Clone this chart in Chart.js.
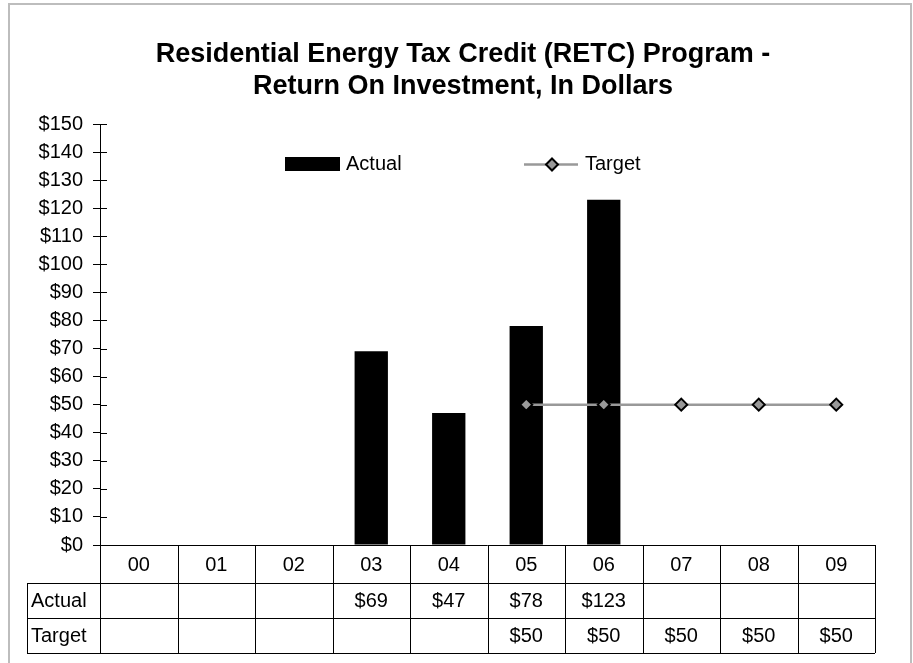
<!DOCTYPE html>
<html>
<head>
<meta charset="utf-8">
<script src="https://cdn.jsdelivr.net/npm/chart.js@4.4.1/dist/chart.umd.min.js"></script>
<style>
  html, body { margin: 0; padding: 0; background: #fff; }
  #wrap { width: 913px; height: 663px; }
</style>
</head>
<body>
<div id="wrap"><canvas id="retcChart" width="913" height="663"></canvas></div>
<script>
// chart data
const years = ['00', '01', '02', '03', '04', '05', '06', '07', '08', '09'];
const actualValues = [null, null, null, 69, 47, 78, 123, null, null, null];
const targetValues = [null, null, null, null, null, 50, 50, 50, 50, 50];
const yTicks = { min: 0, max: 150, step: 10 };
const titleLines = ['Residential Energy Tax Credit (RETC) Program -', 'Return On Investment, In Dollars'];

const FONT = "'Liberation Sans', Arial, sans-serif";
const money = v => '$' + v;

// white background + grey outer frame
const framePlugin = {
    id: 'frame',
    beforeDraw(chart) {
        const ctx = chart.ctx;
        ctx.save();
        ctx.fillStyle = '#fff';
        ctx.fillRect(0, 0, chart.width, chart.height);
        ctx.strokeStyle = '#bdbdbd';
        ctx.lineWidth = 2;
        ctx.strokeRect(9, 4, chart.width - 11, chart.height + 10);
        ctx.restore();
    }
};

// title centred on the frame, not on the plot
const titleBlock = {
    id: 'titleBlock',
    afterDraw(chart) {
        const ctx = chart.ctx;
        ctx.save();
        ctx.font = 'bold 27px ' + FONT;
        ctx.fillStyle = '#000';
        ctx.textAlign = 'center';
        ctx.textBaseline = 'middle';
        titleLines.forEach((t, i) => ctx.fillText(t, 463, 55 + i * 32));
        ctx.restore();
    }
};

// tick marks crossing into the plot area
const innerTicks = {
    id: 'innerTicks',
    afterDatasetsDraw(chart) {
        const y = chart.scales.y, ctx = chart.ctx;
        ctx.save();
        ctx.strokeStyle = '#000';
        ctx.lineWidth = 1;
        y.ticks.forEach(t => {
            const py = Math.round(y.getPixelForValue(t.value)) + 0.5;
            ctx.beginPath();
            ctx.moveTo(chart.chartArea.left, py);
            ctx.lineTo(chart.chartArea.left + 7, py);
            ctx.stroke();
        });
        ctx.restore();
    }
};

// legend drawn inside the plot
const innerLegend = {
    id: 'innerLegend',
    afterDraw(chart) {
        const ctx = chart.ctx;
        const bar = chart.data.datasets[1], line = chart.data.datasets[0];
        ctx.save();
        ctx.font = '20px ' + FONT;
        ctx.textBaseline = 'middle';
        ctx.fillStyle = bar.backgroundColor;
        ctx.fillRect(285, 157, 55, 14);
        ctx.fillStyle = '#000';
        ctx.fillText(bar.label, 346, 164);

        ctx.strokeStyle = line.borderColor;
        ctx.lineWidth = line.borderWidth;
        ctx.beginPath();
        ctx.moveTo(524, 164.5);
        ctx.lineTo(578, 164.5);
        ctx.stroke();
        const r = line.pointRadius;
        ctx.beginPath();
        ctx.moveTo(552, 164.5 - r);
        ctx.lineTo(552 + r, 164.5);
        ctx.lineTo(552, 164.5 + r);
        ctx.lineTo(552 - r, 164.5);
        ctx.closePath();
        ctx.fillStyle = line.pointBackgroundColor;
        ctx.fill();
        ctx.strokeStyle = line.pointBorderColor;
        ctx.lineWidth = line.pointBorderWidth;
        ctx.stroke();
        ctx.fillStyle = '#000';
        ctx.fillText(line.label, 585, 164);
        ctx.restore();
    }
};

// data table under the axis
const dataTable = {
    id: 'dataTable',
    afterDraw(chart) {
        const ctx = chart.ctx, x = chart.scales.x, area = chart.chartArea;
        const colW = (area.right - area.left) / years.length;
        const rows = [area.bottom, area.bottom + 38, area.bottom + 73, area.bottom + 108];
        const labelLeft = 27;
        ctx.save();
        ctx.strokeStyle = '#000';
        ctx.lineWidth = 1;
        const hline = (x1, x2, y) => { ctx.beginPath(); ctx.moveTo(x1, Math.round(y) + 0.5); ctx.lineTo(x2, Math.round(y) + 0.5); ctx.stroke(); };
        const vline = (xx, y1, y2) => { ctx.beginPath(); ctx.moveTo(Math.round(xx) + 0.5, y1); ctx.lineTo(Math.round(xx) + 0.5, y2); ctx.stroke(); };
        hline(area.left, area.right, rows[0]);
        hline(labelLeft, area.right, rows[1]);
        hline(labelLeft, area.right, rows[2]);
        hline(labelLeft, area.right, rows[3]);
        vline(labelLeft, rows[1], rows[3]);
        for (let i = 0; i <= years.length; i++) {
            vline(area.left + i * colW, rows[0], rows[3]);
        }
        ctx.font = '20px ' + FONT;
        ctx.fillStyle = '#000';
        ctx.textBaseline = 'middle';
        ctx.textAlign = 'center';
        years.forEach((yr, i) => {
            const cx = x.getPixelForValue(i);
            ctx.fillText(yr, cx, (rows[0] + rows[1]) / 2 + 1);
            if (actualValues[i] != null) ctx.fillText(money(actualValues[i]), cx, (rows[1] + rows[2]) / 2 + 1);
            if (targetValues[i] != null) ctx.fillText(money(targetValues[i]), cx, (rows[2] + rows[3]) / 2 + 1);
        });
        ctx.textAlign = 'left';
        ctx.fillText(chart.data.datasets[1].label, 31, (rows[1] + rows[2]) / 2 + 1);
        ctx.fillText(chart.data.datasets[0].label, 31, (rows[2] + rows[3]) / 2 + 1);
        ctx.restore();
    }
};

Chart.defaults.font.family = FONT;
Chart.defaults.color = '#000';

new Chart(document.getElementById('retcChart'), {
    type: 'bar',
    data: {
        labels: years,
        datasets: [{
            type: 'line',
            label: 'Target',
            data: targetValues,
            order: 0,
            borderColor: '#999999',
            borderWidth: 2.5,
            pointStyle: 'rectRot',
            pointRadius: 6,
            pointBackgroundColor: '#999999',
            pointBorderColor: '#000',
            pointBorderWidth: 2,
            spanGaps: false
        }, {
            label: 'Actual',
            data: actualValues,
            order: 1,
            backgroundColor: '#000',
            categoryPercentage: 1,
            barPercentage: 0.43
        }]
    },
    options: {
        responsive: false,
        animation: false,
        layout: { padding: { left: 8, right: 38, top: 124, bottom: 118 } },
        plugins: {
            legend: { display: false },
            tooltip: { enabled: false },
            title: { display: false }
        },
        scales: {
            x: { display: false },
            y: {
                min: yTicks.min,
                max: yTicks.max,
                ticks: { stepSize: yTicks.step, callback: v => money(v), font: { size: 20 }, padding: 10, color: '#000' },
                grid: { drawOnChartArea: false, drawTicks: true, tickLength: 7, color: '#000' },
                border: { display: true, color: '#000', width: 1 },
                afterFit(scale) { scale.width = 92; }
            }
        }
    },
    plugins: [framePlugin, titleBlock, innerTicks, innerLegend, dataTable]
});
</script>
</body>
</html>
